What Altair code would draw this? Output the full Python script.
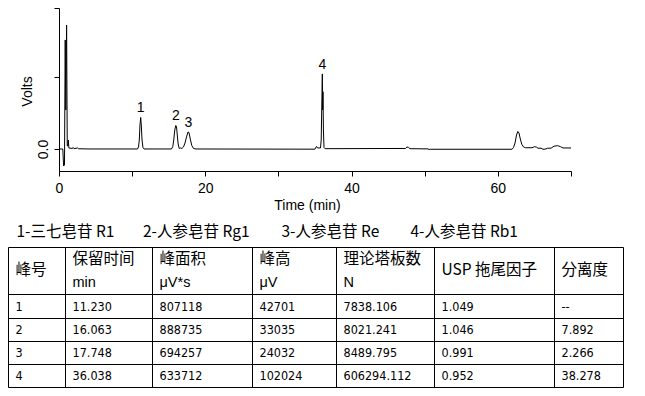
import altair as alt
import pandas as pd

# ---------------- data ----------------
# chromatogram trace (time in min, signal in axis units)
time_min = [0, 0.52, 0.63, 0.75, 0.85, 0.93, 1.04, 1.13, 1.22, 1.27, 1.35, 1.78, 1.96, 2.05, 2.53, 2.67,
            4.24, 10.73, 10.87, 10.98, 11.07, 11.17, 11.25, 11.35, 11.48, 11.62,
            15.38, 15.56, 15.69, 15.83, 15.97, 16.07, 16.17, 16.29, 16.44, 16.61, 16.80,
            17.02, 17.23, 17.43, 17.64, 17.77, 17.95, 18.15, 18.39, 18.73,
            34.99, 35.20, 35.34, 35.75, 35.85, 35.94, 36.00, 36.05, 36.09, 36.15, 36.23, 36.37,
            47.37, 47.58, 47.79, 47.99, 50.45, 50.59, 50.79,
            61.94, 62.14, 62.35, 62.55, 62.73, 62.89, 63.07, 63.28, 63.51, 63.78,
            64.67, 65.01, 65.28, 65.49, 65.90, 66.17, 66.45, 66.79, 67.27, 67.68, 68.16, 68.57, 68.91, 70.0]
volts = [0, 0, -0.236, -0.222, 1.514, 0.542, 1.722, 0.042, 0.042, 0.125, 0.014, 0.007, 0.02, 0.004, 0.014, 0.003,
         0, 0, 0.028, 0.125, 0.333, 0.438, 0.333, 0.125, 0.021, 0,
         0, 0.035, 0.125, 0.264, 0.326, 0.306, 0.194, 0.069, 0.007, 0.014, 0.007,
         0.028, 0.083, 0.167, 0.236, 0.229, 0.139, 0.049, 0.007, 0,
         -0.003, 0.035, 0.014, 0.014, 0.125, 0.681, 1.042, 0.542, 0.796, 0.264, 0.021, 0.004,
         0.007, 0.028, 0.021, 0.004, 0.001, -0.007, -0.004,
         -0.004, 0.021, 0.083, 0.194, 0.243, 0.222, 0.139, 0.063, 0.028, 0.017,
         0.017, 0.032, 0.025, 0.010, 0.011, -0.004, -0.003, 0.010, 0.011, 0.038, 0.046, 0.032, 0.014, 0.014]

peak_ids = ["1", "2", "3", "4"]
peak_time = [11.17, 15.97, 17.70, 36.00]
peak_top = [0.438, 0.326, 0.236, 1.042]

caption_items = ["1-三七皂苷 R1", "2-人参皂苷 Rg1", "3-人参皂苷 Re", "4-人参皂苷 Rb1"]

header_main = ["峰号", "保留时间", "峰面积", "峰高", "理论塔板数", "USP 拖尾因子", "分离度"]
header_unit = ["", "min", "μV*s", "μV", "N", "", ""]

col_peak = ["1", "2", "3", "4"]
col_rt = ["11.230", "16.063", "17.748", "36.038"]
col_area = ["807118", "888735", "694257", "633712"]
col_height = ["42701", "33035", "24032", "102024"]
col_plates = ["7838.106", "8021.241", "8489.795", "606294.112"]
col_tailing = ["1.049", "1.046", "0.991", "0.952"]
col_resolution = ["--", "7.892", "2.266", "38.278"]

# ---------------- layout (page pixels) ----------------
PLOT_X0, PLOT_Y0 = 59, 8
PLOT_W, PLOT_H = 512, 163
TABLE_X0, TABLE_Y0 = 8.5, 247.5
COL_W = [57, 87, 100, 84, 98, 120, 69]
ROW_H = [47, 24, 23, 23, 23]
CELL_PAD = 7
CAPTION_X = [16.5, 143, 281.5, 410.5]
CAPTION_Y = 231.5
HEAD_Y1, HEAD_YMID, HEAD_Y2 = 259, 269.5, 282.5

col_edges = [TABLE_X0]
for w in COL_W:
    col_edges.append(col_edges[-1] + w)
row_edges = [TABLE_Y0]
for h in ROW_H:
    row_edges.append(row_edges[-1] + h)

def px(x):
    return x - PLOT_X0

def py(y):
    return y - PLOT_Y0

CJK = "Noto Sans CJK JP, Noto Sans CJK SC"
LAT = "Liberation Sans"

# ---------------- chromatogram ----------------
trace = pd.DataFrame({"t": time_min, "v": volts})
labels = pd.DataFrame({"t": peak_time, "v": peak_top, "id": peak_ids})

x_enc = alt.X("t:Q", scale=alt.Scale(domain=[0, 70], nice=False, zero=False),
              axis=alt.Axis(title="Time (min)", values=[0, 10, 20, 30, 40, 50, 60, 70],
                            labelExpr="datum.value % 20 === 0 ? datum.label : ''",
                            labelFlush=False, labelOverlap=False, tickSize=5,
                            labelPadding=16, labelBaseline="alphabetic",
                            labelFont=LAT, labelFontSize=14,
                            titleFont=LAT, titleFontSize=14, titleFontWeight="normal",
                            titleX=248, titleY=38, titleAlign="center", titleBaseline="alphabetic",
                            grid=False))
y_enc = alt.Y("v:Q", scale=alt.Scale(domain=[-0.306, 1.958], nice=False, zero=False),
              axis=alt.Axis(title="Volts", values=[0, 1, 1.958],
                            labelExpr="datum.value === 0 ? '0.0' : ''",
                            labelAngle=270, labelAlign="center", labelBaseline="alphabetic",
                            labelOverlap=False, tickSize=5, labelPadding=7,
                            labelFont=LAT, labelFontSize=14,
                            titleFont=LAT, titleFontSize=14, titleFontWeight="normal",
                            titleAngle=270, titleX=-28, titleY=83, titleAlign="center",
                            titleBaseline="alphabetic", grid=False))

line = alt.Chart(trace).mark_line(color="black", strokeWidth=1).encode(x=x_enc, y=y_enc)

peak_text = alt.Chart(labels).mark_text(font=LAT, fontSize=14, baseline="alphabetic",
                                        dy=-5, color="black").encode(
    x=alt.X("t:Q"), y=alt.Y("v:Q"), text="id:N")

# ---------------- table ----------------
hl = pd.DataFrame({"x": [px(col_edges[0])] * len(row_edges),
                   "x2": [px(col_edges[-1])] * len(row_edges),
                   "y": [py(y) for y in row_edges]})
vl = pd.DataFrame({"x": [px(x) for x in col_edges],
                   "y": [py(row_edges[0])] * len(col_edges),
                   "y2": [py(row_edges[-1])] * len(col_edges)})

XN = lambda f: alt.X(f, scale=None, axis=None)
YN = lambda f: alt.Y(f, scale=None, axis=None)

hrules = alt.Chart(hl).mark_rule(color="black", strokeWidth=1).encode(
    x=XN("x:Q"), x2="x2:Q", y=YN("y:Q"))
vrules = alt.Chart(vl).mark_rule(color="black", strokeWidth=1).encode(
    x=XN("x:Q"), y=YN("y:Q"), y2="y2:Q")

cap_df = pd.DataFrame({"x": [px(x) for x in CAPTION_X], "y": [py(CAPTION_Y)] * 4,
                       "txt": caption_items})
caption = alt.Chart(cap_df).mark_text(font=CJK, fontSize=15.5, align="left", baseline="middle",
                                      color="black").encode(
    x=XN("x:Q"), y=YN("y:Q"), text="txt:N")

h1 = pd.DataFrame({
    "x": [px(col_edges[i] + CELL_PAD) for i in range(len(header_main))],
    "y": [py(HEAD_Y1 if header_unit[i] else HEAD_YMID) for i in range(len(header_main))],
    "txt": header_main})
head1 = alt.Chart(h1).mark_text(font=CJK, fontSize=15.5, align="left", baseline="middle",
                                color="black").encode(
    x=XN("x:Q"), y=YN("y:Q"), text="txt:N")

h2 = pd.DataFrame({
    "x": [px(col_edges[i] + CELL_PAD) for i in range(len(header_unit)) if header_unit[i]],
    "y": [py(HEAD_Y2)] * sum(1 for u in header_unit if u),
    "txt": [u for u in header_unit if u]})
head2 = alt.Chart(h2).mark_text(font=LAT, fontSize=14.5, align="left", baseline="middle",
                                color="black").encode(
    x=XN("x:Q"), y=YN("y:Q"), text="txt:N")

columns = [col_peak, col_rt, col_area, col_height, col_plates, col_tailing, col_resolution]
recs = []
for ci, col in enumerate(columns):
    for ri, val in enumerate(col):
        mid = (row_edges[ri + 1] + row_edges[ri + 2]) / 2
        recs.append({"x": px(col_edges[ci] + CELL_PAD), "y": py(mid), "txt": val})
cells_df = pd.DataFrame(recs)
cells = alt.Chart(cells_df).mark_text(font="DejaVu Sans Condensed, Liberation Sans", fontSize=12.5,
                                      align="left", baseline="middle", color="black").encode(
    x=XN("x:Q"), y=YN("y:Q"), text="txt:N")

chart = alt.layer(line, peak_text, hrules, vrules, caption, head1, head2, cells).properties(
    width=PLOT_W, height=PLOT_H,
    autosize=alt.AutoSizeParams(type="none"),
    padding={"left": PLOT_X0 - 8, "top": PLOT_Y0 - 8, "right": 66, "bottom": 222},
).configure_view(stroke=None).configure_axis(
    domainColor="black", tickColor="black", labelColor="black", titleColor="black")

chart.save("out.html", embed_options={"renderer": "svg", "actions": False})
